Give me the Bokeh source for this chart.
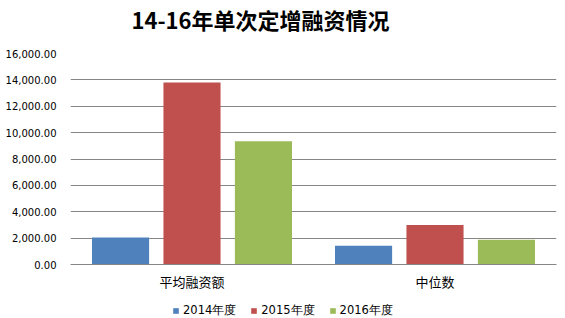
from bokeh.plotting import figure
from bokeh.layouts import column
from bokeh.models import (ColumnDataSource, Range1d, FactorRange, NumeralTickFormatter,
                          Legend, LegendItem, SingleIntervalTicker, Label)
from bokeh.transform import dodge
from bokeh.embed import file_html
from bokeh.resources import INLINE

title_text = "14-16年单次定增融资情况"
categories = ["平均融资额", "中位数"]
years = ["2014年度", "2015年度", "2016年度"]
v2014 = [2050, 1430]
v2015 = [13800, 3000]
v2016 = [9350, 1880]
colors = ["#4F81BD", "#C0504D", "#9BBB59"]

src = ColumnDataSource(dict(cat=categories, y2014=v2014, y2015=v2015, y2016=v2016))
cols = ["y2014", "y2015", "y2016"]

# title strip
ts = figure(width=565, height=48, x_range=Range1d(0, 1), y_range=Range1d(0, 1),
            output_backend="svg", toolbar_location=None, title=None,
            x_axis_location=None, y_axis_location=None,
            min_border_left=70, min_border_right=9,
            min_border_top=0, min_border_bottom=0)
ts.grid.visible = False
ts.outline_line_color = None
ts.add_layout(Label(x=190, y=30, x_units="screen", y_units="screen", text=title_text,
                    text_align="center", text_baseline="middle",
                    text_font="Noto Sans CJK SC", text_font_size="22px",
                    text_font_style="bold", text_color="black"))

# main chart
p = figure(width=565, height=248, title=None,
           x_range=FactorRange(factors=categories, range_padding=0),
           y_range=Range1d(0, 16000),
           output_backend="svg", toolbar_location=None,
           min_border_left=70, min_border_right=9,
           min_border_top=5, min_border_bottom=32)

offsets = [-0.294, 0.0, 0.294]
for off, col, c in zip(offsets, cols, colors):
    p.vbar(x=dodge("cat", off, range=p.x_range), top=col, width=0.235,
           source=src, fill_color=c, line_color=None)

p.outline_line_color = None
p.xgrid.visible = False
p.ygrid.grid_line_color = "#868686"
p.ygrid.grid_line_width = 1

p.yaxis.ticker = SingleIntervalTicker(interval=2000, num_minor_ticks=0)
p.yaxis.formatter = NumeralTickFormatter(format="0,0.00")
p.yaxis.axis_line_color = None
p.yaxis.major_tick_line_color = None
p.yaxis.minor_tick_line_color = None
p.yaxis.major_tick_out = 0
p.yaxis.major_label_standoff = 14
p.yaxis.major_label_text_font = "DejaVu Sans"
p.yaxis.major_label_text_font_size = "10px"
p.yaxis.major_label_text_color = "black"

p.xaxis.axis_line_color = "#868686"
p.xaxis.major_tick_line_color = None
p.xaxis.major_tick_out = 0
p.xaxis.major_label_standoff = 7
p.xaxis.major_label_text_font = "Noto Sans CJK SC"
p.xaxis.major_label_text_font_size = "13px"
p.xaxis.major_label_text_color = "black"

# legend strip (its key renderers lie far outside its visible range)
lg = figure(width=565, height=22, title=None,
            x_range=FactorRange(factors=categories), y_range=Range1d(1e6, 1e6 + 1),
            output_backend="svg", toolbar_location=None,
            x_axis_location=None, y_axis_location=None,
            min_border_left=70, min_border_right=9,
            min_border_top=0, min_border_bottom=0)
lg.grid.visible = False
lg.outline_line_color = None
keys = []
for col, c in zip(cols, colors):
    keys.append(lg.vbar(x="cat", top=col, width=0.2, source=src,
                        fill_color=c, line_color=None))

legend = Legend(items=[LegendItem(label=y, renderers=[r]) for y, r in zip(years, keys)],
                orientation="horizontal", location=(102, 0),
                glyph_width=7, glyph_height=7, label_standoff=4, spacing=14,
                padding=0, margin=0, label_height=14,
                border_line_color=None, background_fill_alpha=0,
                label_text_font="DejaVu Sans", label_text_font_size="11.5px",
                label_text_color="black")
lg.add_layout(legend)

open("out.html", "w").write(file_html(column(ts, p, lg, spacing=0), INLINE))
